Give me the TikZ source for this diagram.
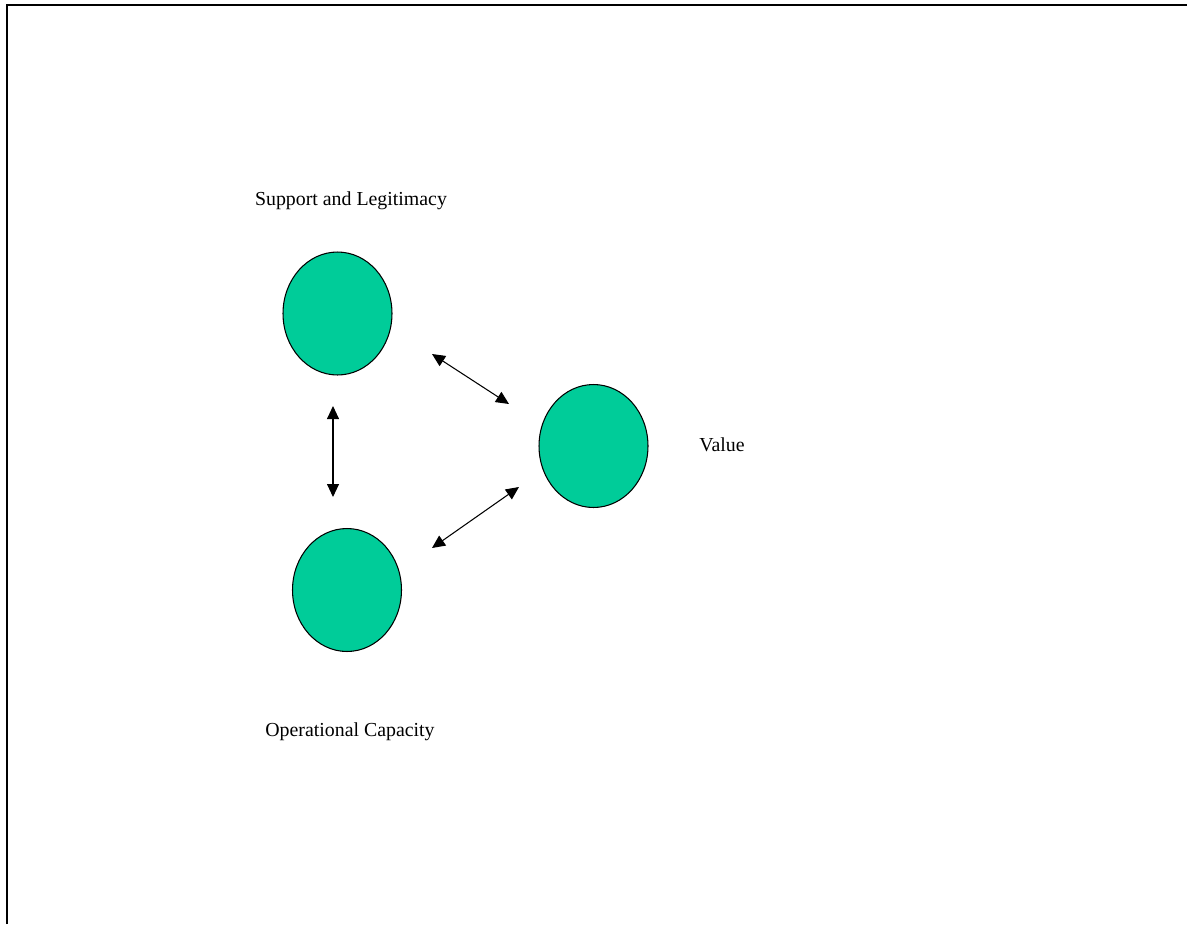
\documentclass[tikz,border=0pt]{standalone}
\usepackage{fontspec}
\setmainfont{Liberation Serif}
\usetikzlibrary{shapes.geometric,arrows.meta}
\definecolor{seagreen}{RGB}{0,204,153}
\tikzset{
  blob/.style={ellipse,draw,line width=0.6pt,fill=seagreen,inner sep=0pt,minimum width=2.18cm,minimum height=2.46cm},
  lbl/.style={font=\fontsize{11.3}{14}\selectfont,inner sep=0pt},
  dbl/.style={line width=0.6pt,{Triangle[length=7.4pt,width=6.8pt]}-{Triangle[length=7.4pt,width=6.8pt]}}
}
\begin{document}
\begin{tikzpicture}[x=0.02cm,y=-0.02cm]
\useasboundingbox (0,0) rectangle (1187,924);
\draw[line width=1.2pt] (7,924) -- (7,5) -- (1187,5);
\foreach \n/\x/\y in {sl/337.5/313.5,val/593.5/446,oc/347/590}
  \node[blob] (\n) at (\x,\y) {};
\node[lbl] (sltxt) at (351,201) {Support and Legitimacy};
\node[lbl] (valtxt) at (722,445) {Value};
\node[lbl] (octxt) at (350,732) {Operational Capacity};
% arrow ends
\coordinate (v1) at (333,406); \coordinate (v2) at (333,497);
\coordinate (u1) at (432,354); \coordinate (u2) at (509,404);
\coordinate (w1) at (432,548); \coordinate (w2) at (519,487);
\draw[dbl] (v1) -- (v2);
\draw[dbl] (u1) -- (u2);
\draw[dbl] (w1) -- (w2);
\end{tikzpicture}
\end{document}
